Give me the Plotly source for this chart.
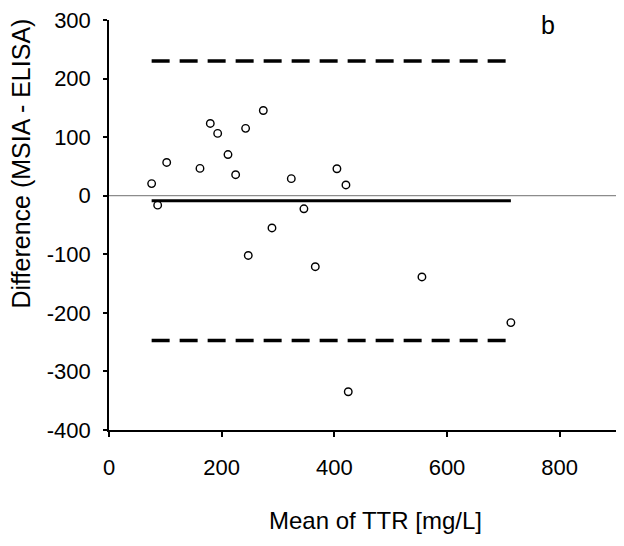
import plotly.graph_objects as go

# Bland-Altman data
mean_ttr = [75.7, 86.4, 102.4, 161.5, 179.8, 192.9, 211.2, 224.8, 242.5, 273.9,
            323.6, 346.0, 289.3, 247.2, 404.6, 420.6, 366.2, 555.5, 713.4, 424.7]
diff = [20.7, -16.1, 56.8, 46.6, 123.4, 106.4, 70.3, 35.9, 115.0, 145.5,
        29.1, -22.3, -55.0, -102.0, 46.0, 18.4, -121.2, -138.7, -216.6, -334.7]

bias = -8.5
upper_loa = 230.0
lower_loa = -247.0

x_ticks = [0, 200, 400, 600, 800]
y_ticks = [300, 200, 100, 0, -100, -200, -300, -400]

FONT = "Arial, Liberation Sans, sans-serif"

x_span = [min(mean_ttr), max(mean_ttr)]

fig = go.Figure()

# zero reference line
fig.add_trace(go.Scatter(x=[0, 900], y=[0, 0], mode="lines",
                         line=dict(color="#8c8c8c", width=1.2),
                         hoverinfo="skip", showlegend=False))
# limits of agreement
for lv in (upper_loa, lower_loa):
    fig.add_trace(go.Scatter(x=x_span, y=[lv, lv], mode="lines",
                             line=dict(color="black", width=3.5, dash="18px,10px"),
                             showlegend=False))
# bias
fig.add_trace(go.Scatter(x=x_span, y=[bias, bias], mode="lines",
                         line=dict(color="black", width=3),
                         showlegend=False))
# points
fig.add_trace(go.Scatter(x=mean_ttr, y=diff, mode="markers",
                         marker=dict(symbol="circle-open", size=7.5, color="black",
                                     line=dict(width=1.4, color="black")),
                         showlegend=False))

fig.update_layout(
    width=624, height=546,
    margin=dict(l=109, r=8, t=17.5, b=115.5),
    paper_bgcolor="white", plot_bgcolor="white",
    font=dict(family=FONT, size=22, color="black"),
    xaxis=dict(range=[0, 900], tickvals=x_ticks, ticktext=[str(v) for v in x_ticks],
               showgrid=False, zeroline=False, showline=True, linecolor="black",
               linewidth=1.5, ticks="outside", ticklen=5, tickwidth=1.5,
               tickcolor="black", ticklabelstandoff=12,
               tickfont=dict(family=FONT, size=22)),
    yaxis=dict(range=[-400, 300], tickvals=y_ticks, ticktext=[str(v) for v in y_ticks],
               showgrid=False, zeroline=False, showline=True, linecolor="black",
               linewidth=1.5, ticks="outside", ticklen=4, tickwidth=1.5,
               tickcolor="black", ticklabelstandoff=8,
               tickfont=dict(family=FONT, size=22)),
    annotations=[
        dict(text="Mean of TTR [mg/L]", xref="paper", yref="paper",
             x=0.5247, y=-0.2215, showarrow=False, xanchor="center", yanchor="middle",
             font=dict(family=FONT, size=24)),
        dict(text="Difference (MSIA - ELISA)", xref="paper", yref="paper",
             x=-0.1755, y=0.650, showarrow=False, xanchor="center", yanchor="middle",
             textangle=-90, font=dict(family=FONT, size=25)),
        dict(text="b", xref="paper", yref="paper",
             x=0.866, y=0.9867, showarrow=False, xanchor="center", yanchor="middle",
             font=dict(family=FONT, size=25)),
    ],
)

# remove the default 8px page margin so the figure fills the window exactly
fig.write_html("out.html",
               config={"displayModeBar": False},
               post_script="document.body.style.margin='0';document.body.style.overflow='hidden';")
